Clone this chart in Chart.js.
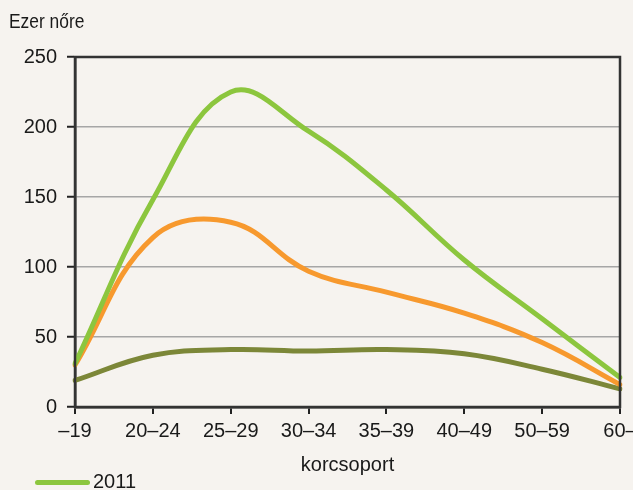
<!DOCTYPE html>
<html>
<head>
<meta charset="utf-8">
<script src="https://cdn.jsdelivr.net/npm/chart.js@4"></script>
<style>
  html, body { margin: 0; padding: 0; background: #f6f3ef; overflow: hidden; }
  body { width: 633px; height: 490px; position: relative; }
  #wrap { position: absolute; left: 0; top: 0; width: 660px; height: 500px; }
  .txt { position: absolute; font-family: "Liberation Sans", Arial, sans-serif; font-size: 20px; color: #1a1a1a; white-space: nowrap; }
  #ytitle { left: 9px; top: 10px; transform: scaleX(0.87); transform-origin: left center; }
  #legend { left: 35px; top: 470px; }
  #legend span.line { display: inline-block; width: 55px; height: 5px; border-radius: 3px; background: #8cc63e; vertical-align: middle; margin-right: 3px; }
</style>
</head>
<body>
<div id="wrap"><canvas id="myChart"></canvas></div>
<div class="txt" id="ytitle">Ezer nőre</div>
<div class="txt" id="legend"><span class="line"></span>2011</div>
<script>
// age groups
var categories = ["–19", "20–24", "25–29", "30–34", "35–39", "40–49", "50–59", "60–"];
var yTicks = [0, 50, 100, 150, 200, 250];

// series values, per thousand women
var values2011 = [31, 148, 225, 197, 155, 105, 63, 21];
var valuesOrange = [30, 121, 132, 97, 82, 67, 46, 16];
var valuesOlive = [19, 37, 41, 40, 41, 38, 27, 13];

var FONT = "'Liberation Sans', Arial, sans-serif";

document.addEventListener("DOMContentLoaded", function () {
  var data = {
    labels: categories,
    datasets: [
      {
        label: "2011",
        borderColor: "#8cc63e",
        data: values2011,
      },
      {
        label: "2001",
        borderColor: "#f7992e",
        data: valuesOrange,
      },
      {
        label: "1990",
        borderColor: "#7c8738",
        data: valuesOlive,
      },
    ],
  };

  // box around the plot area
  var frame = {
    id: "frame",
    afterDraw: function (chart) {
      var a = chart.chartArea;
      var c = chart.ctx;
      c.save();
      c.strokeStyle = "#333";
      c.lineWidth = 2.5;
      c.strokeRect(a.left, a.top, a.right - a.left, a.bottom - a.top);
      c.restore();
    },
  };

  var options = {
    responsive: true,
    maintainAspectRatio: false,
    animation: false,
    layout: { padding: { left: 0, right: 40, top: 57, bottom: 0 } },
    elements: {
      line: { borderWidth: 5, tension: 0.4, fill: false, borderCapStyle: "round" },
      point: { radius: 0 },
    },
    scales: {
      x: {
        type: "category",
        offset: false,
        afterFit: function (s) { s.height = 93; },
        title: {
          display: true,
          text: "korcsoport",
          color: "#1a1a1a",
          padding: { top: 23, bottom: 23 },
          font: { family: FONT, size: 20 },
        },
        ticks: {
          color: "#1a1a1a",
          padding: 5,
          maxRotation: 0,
          autoSkip: false,
          font: { family: FONT, size: 20 },
        },
        grid: { display: true, drawOnChartArea: false, tickLength: 7, tickColor: "#222", lineWidth: 2 },
        border: { color: "#222", width: 2.5 },
      },
      y: {
        min: 0,
        max: 250,
        afterFit: function (s) { s.width = 75; },
        afterBuildTicks: function (s) {
          s.ticks = yTicks.map(function (v) { return { value: v }; });
        },
        ticks: {
          color: "#1a1a1a",
          padding: 10,
          font: { family: FONT, size: 20 },
        },
        grid: { color: "#a6a6a6", lineWidth: 1.5, tickLength: 8, tickColor: "#222", tickWidth: 2 },
        border: { color: "#222", width: 2.5 },
      },
    },
    plugins: {
      legend: { display: false },
      tooltip: { enabled: false },
    },
  };

  var ctx = document.getElementById("myChart").getContext("2d");
  var myChart = new Chart(ctx, {
    type: "line",
    data: data,
    options: options,
    plugins: [frame],
  });
});
</script>
</body>
</html>
